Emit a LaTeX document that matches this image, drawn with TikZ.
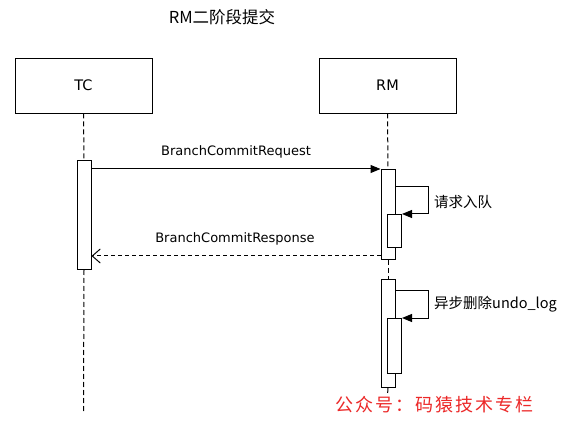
\documentclass[tikz,border=0pt]{standalone}
\usepackage{fontspec}
\setmainfont{DejaVu Sans}
\newfontfamily\cjk{Noto Sans CJK SC}
\usetikzlibrary{arrows.meta}
\definecolor{wm}{RGB}{236,40,40}
\begin{document}
\begin{tikzpicture}[x=1pt,y=-1pt,
  actor/.style={draw, line width=0.9pt, minimum width=137pt, minimum height=55pt, inner sep=0pt, font=\fontsize{14.5}{16}\selectfont},
  life/.style={line width=1pt, dash pattern=on 5pt off 3pt},
  act/.style={draw, fill=white, line width=1pt, inner sep=0pt, minimum width=14pt, anchor=north west},
  msg/.style={line width=1pt, -{Triangle[length=10pt,width=8pt]}},
  ret/.style={line width=1pt, dash pattern=on 4pt off 3pt, -{Straight Barb[length=8pt,width=14pt]}},
  lbl/.style={inner sep=0pt, font=\fontsize{13}{15}\selectfont},
  cjklbl/.style={inner sep=0pt, anchor=west, font=\cjk\fontsize{14.5}{16}\selectfont}]
\useasboundingbox (0,0) rectangle (567,435);
\fill[white] (0,0) rectangle (567,435);

\node[inner sep=0pt, font=\cjk\fontsize{16.5}{18}\selectfont] (title) at (222,17) {RM二阶段提交};

\node[actor] (tc) at (83.5,85.5) {TC};
\node[actor] (rm) at (387.5,85.5) {RM};

\coordinate (tcend) at (83.5,413);
\coordinate (rmend) at (387.5,395);

% activation boxes
\node[act, minimum height=109pt] (tca) at (76.5,160) {};
\node[act, minimum height=90pt] (rma1) at (380.5,169) {};
\node[act, minimum height=108pt] (rma2) at (380.5,279) {};

% lifelines
\draw[life] (tc.south) -- (tca.north);
\draw[life] (tca.south) -- (tcend);
\draw[life] (rm.south) -- (rma1.north);
\draw[life] (rma1.south) -- (rma2.north);
\draw[life] (rma2.south) -- (rmend);

\node[act, minimum height=33pt] (rmi1) at (387,214) {};
\node[act, minimum height=55pt] (rmi2) at (387,318) {};

% messages
\draw[msg] (tca.east |- rma1.north) -- (rma1.north west);
\node[lbl] (reqlbl) at (236,152) {BranchCommitRequest};
\draw[ret] (rma1.west |- 0,256) -- (tca.east |- 0,256);
\node[lbl] (reslbl) at (235,239) {BranchCommitResponse};

% self calls
\draw[msg] (rma1.east |- 0,187) -| (428,214) -- (rmi1.north east);
\node[cjklbl] (q1) at (434,202) {请求入队};
\draw[msg] (rma2.east |- 0,291) -| (428,318) -- (rmi2.north east);
\node[cjklbl] (q2) at (434,304) {异步删除undo\_log};

% watermark
\node[inner sep=0pt, anchor=west, text=wm, font=\cjk\fontsize{18}{20}\selectfont\addfontfeature{LetterSpace=11}] (wmk) at (335,405) {公众号：码猿技术专栏};
\end{tikzpicture}
\end{document}
